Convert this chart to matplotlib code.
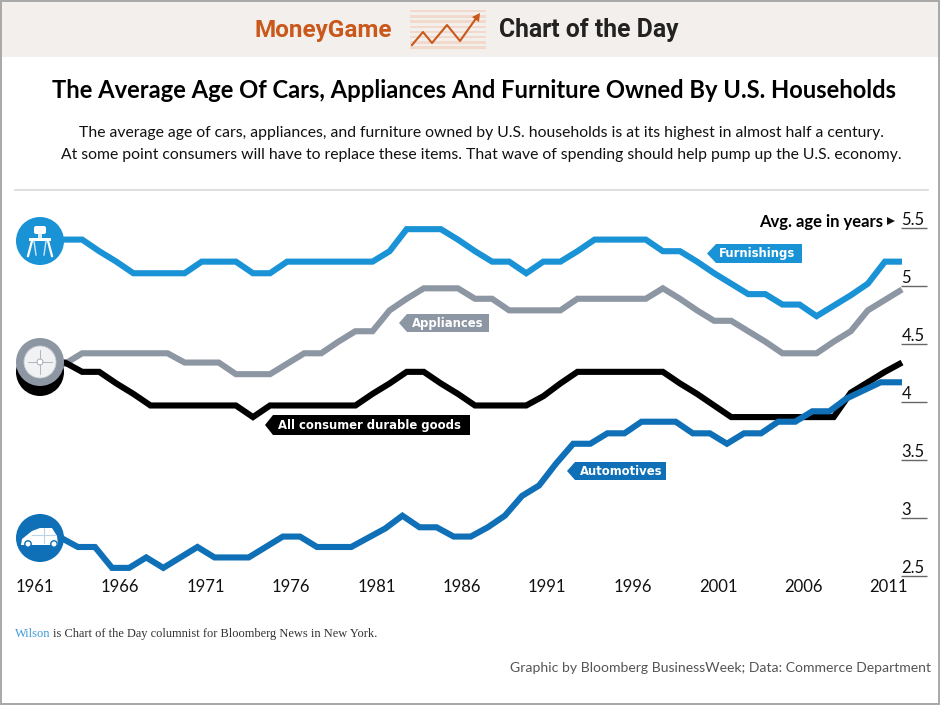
import matplotlib
matplotlib.use("Agg")
import matplotlib.pyplot as plt
from matplotlib.patches import Circle, Polygon, Rectangle, FancyBboxPatch

years = list(range(1961, 2013))
furnishings = [5.40,5.40,5.40,5.40,5.30,5.21,5.11,5.11,5.11,5.11,5.21,5.21,5.21,5.11,5.11,5.21,5.21,5.21,5.21,5.21,5.21,5.30,5.49,5.49,5.49,5.40,5.30,5.21,5.21,5.11,5.21,5.21,5.30,5.40,5.40,5.40,5.40,5.30,5.30,5.21,5.11,5.02,4.93,4.93,4.84,4.84,4.74,4.83,4.92,5.02,5.21,5.21]
appliances = [4.33,4.33,4.33,4.42,4.42,4.42,4.42,4.42,4.42,4.34,4.34,4.34,4.24,4.24,4.24,4.33,4.42,4.42,4.52,4.61,4.61,4.79,4.89,4.98,4.98,4.98,4.89,4.89,4.79,4.79,4.79,4.79,4.89,4.89,4.89,4.89,4.89,4.98,4.89,4.79,4.70,4.70,4.61,4.52,4.42,4.42,4.42,4.52,4.61,4.79,4.88,4.97]
durable = [4.34,4.34,4.34,4.26,4.26,4.16,4.07,3.97,3.97,3.97,3.97,3.97,3.97,3.87,3.97,3.97,3.97,3.97,3.97,3.97,4.07,4.16,4.26,4.26,4.16,4.07,3.97,3.97,3.97,3.97,4.05,4.16,4.26,4.26,4.26,4.26,4.26,4.26,4.16,4.07,3.97,3.87,3.87,3.87,3.87,3.87,3.87,3.87,4.08,4.17,4.26,4.34]
auto_years = [y - 0.25 for y in years[:-1]] + [2012]
automotives = [2.83,2.83,2.83,2.75,2.75,2.57,2.57,2.66,2.57,2.66,2.75,2.66,2.66,2.66,2.75,2.84,2.84,2.75,2.75,2.75,2.83,2.91,3.02,2.92,2.92,2.84,2.84,2.92,3.02,3.19,3.28,3.47,3.64,3.64,3.73,3.73,3.83,3.83,3.83,3.73,3.73,3.64,3.73,3.73,3.83,3.83,3.92,3.92,4.03,4.10,4.17,4.17]
x_ticks = [1961,1966,1971,1976,1981,1986,1991,1996,2001,2006,2011]
y_ticks = [2.5,3,3.5,4,4.5,5,5.5]
y_tick_labels = ["2.5","3","3.5","4","4.5","5","5.5"]

C_FURN = "#1a93d6"; C_APPL = "#8d96a3"; C_AUTO = "#0f70b7"; C_BLK = "#000000"
W, H = 940, 705
SANS = "Lato"

fig = plt.figure(figsize=(9.4, 7.05), dpi=100, facecolor="white")
ax = fig.add_axes([16/W, 1-576/H, (927-16)/W, (576-228)/H])
ax.set_xlim(2012-(902-16)/17.08, 2012+25/17.08)
ax.set_ylim(2.5, 5.5)
ax.patch.set_alpha(0)
for s in ax.spines.values():
    s.set_visible(False)
lw = 4.4
for xs, ys, c, z in [(years, furnishings, C_FURN, 3), (years, appliances, C_APPL, 3),
                     (years, durable, C_BLK, 3), (auto_years, automotives, C_AUTO, 4)]:
    ax.plot(xs, ys, color=c, lw=lw, zorder=z, clip_on=False, solid_joinstyle="miter", solid_capstyle="butt")
ax.set_xticks([y + 0.23 for y in x_ticks])
ax.set_xticklabels([str(y) for y in x_ticks], fontsize=12, family=SANS, color="#111111")
ax.tick_params(axis="x", length=0, pad=2)
ax.yaxis.tick_right()
ax.set_yticks(y_ticks)
ax.set_yticklabels(y_tick_labels, fontsize=12, family=SANS, color="#111111", va="bottom", ha="left")
ax.tick_params(axis="y", direction="in", length=18.7, width=1, color="#666666", pad=-18.5)

ov = fig.add_axes([0, 0, 1, 1], zorder=5)
ov.set_xlim(0, W); ov.set_ylim(H, 0); ov.axis("off"); ov.patch.set_alpha(0)

# header band and frame
ov.add_patch(Rectangle((0, 0), W, 57, fc="#f3efec", ec="none", zorder=0))
ov.add_patch(Rectangle((1, 1), W-2, H-2, fc="none", ec="#a8a8a8", lw=1.4, zorder=20))
ov.text(323, 30, "MoneyGame", color="#c9581a", fontsize=17.5, fontweight="bold", family="Roboto", ha="center", va="center")
ov.text(588.5, 30, "Chart of the Day", color="#222222", fontsize=17.8, fontweight="bold", family="Roboto", ha="center", va="center")
for i in range(8):
    ov.add_patch(Rectangle((410, 10+i*5.2), 76, 2.4, fc="#f1d9cc", ec="none", zorder=1))
ov.plot([412,423,432,447,460,477], [45,32,43,25,41,17], color="#c9581a", lw=1.5, zorder=2)
ov.add_patch(Polygon([[480,13],[472,17],[479,22]], fc="#c9581a", ec="none", zorder=2))

# title block
ov.text(474.5, 91, "The Average Age Of Cars, Appliances And Furniture Owned By U.S. Households",
        fontsize=17.1, fontweight="bold", family=SANS, ha="center", va="center", color="#000000")
ov.text(481.5, 132.5, "The average age of cars, appliances, and furniture owned by U.S. households is at its highest in almost half a century.",
        fontsize=11.35, family=SANS, ha="center", va="center", color="#111111")
ov.text(481.5, 154.5, "At some point consumers will have to replace these items. That wave of spending should help pump up the U.S. economy.",
        fontsize=11.35, family=SANS, ha="center", va="center", color="#111111")
ov.plot([15, 928], [189.5, 189.5], color="#d9d9d9", lw=1.2)

# axis caption
ov.text(883, 221.5, "Avg. age in years", fontsize=12, fontweight="bold", family=SANS, ha="right", va="center", color="#000000")
ov.add_patch(Polygon([[887,217],[887,225],[895,221]], fc="#111111", ec="none"))

# callouts
def callout(tip, body, right, top, bot, color, label, tx):
    mid = (top+bot)/2
    ov.add_patch(Polygon([[tip,mid],[body,top],[right,top],[right,bot],[body,bot]], fc=color, ec="none", zorder=3))
    ov.text(tx, mid + 0.5, label, color="white", fontsize=8.4, fontweight="bold", family="DejaVu Sans", ha="left", va="center", zorder=4)
callout(707, 716, 802, 244, 263, C_FURN, "Furnishings", 719)
callout(399, 407, 489, 314, 332, C_APPL, "Appliances", 412)
callout(265, 273, 470, 415, 435, C_BLK, "All consumer durable goods", 278)
callout(567, 575, 666, 462, 480, C_AUTO, "Automotives", 580)

# chair icon
ov.add_patch(Circle((40, 241), 24, fc=C_FURN, ec="none", zorder=6))
ov.add_patch(FancyBboxPatch((34, 226), 12, 8, boxstyle="round,pad=0,rounding_size=2", fc="white", ec="none", zorder=7))
ov.add_patch(Rectangle((29, 238), 22, 3, fc="white", ec="none", zorder=7))
ov.plot([39,39],[233,239], color="white", lw=1.2, zorder=7)
ov.plot([41,41],[233,239], color="white", lw=1.2, zorder=7)
ov.plot([32,28],[241,256], color="white", lw=1.6, zorder=7)
ov.plot([48,52],[241,256], color="white", lw=1.6, zorder=7)
ov.plot([34,36],[241,255], color="#cfe8f7", lw=1.0, zorder=7)
ov.plot([46,44],[241,255], color="#cfe8f7", lw=1.0, zorder=7)

# tyre icon
ov.add_patch(Circle((40, 372), 24, fc="black", ec="none", zorder=5))
ov.add_patch(Circle((40, 362), 24, fc=C_APPL, ec="none", zorder=6))
ov.add_patch(Circle((40, 362), 16, fc="#f1f2f3", ec="#c8ccd0", lw=0.6, zorder=7))
ov.add_patch(Circle((40, 362), 3, fc="white", ec="#9aa0a8", lw=0.6, zorder=8))
ov.plot([28,52],[362,362], color="#a8adb5", lw=0.6, zorder=7)
ov.plot([40,40],[350,374], color="#a8adb5", lw=0.6, zorder=7)

# car icon
ov.add_patch(Circle((40, 538), 24, fc=C_AUTO, ec="none", zorder=6))
ov.add_patch(Polygon([[21,545],[22,539],[32,531],[40,528],[52,528],[57,536],[58,545]], fc="white", ec="none", zorder=7))
ov.plot([44,44],[528,543], color="#bcd3e8", lw=0.8, zorder=8)
ov.plot([32,56],[535,535], color="#bcd3e8", lw=0.8, zorder=8)
ov.add_patch(Circle((28, 544), 3.2, fc="white", ec=C_AUTO, lw=1, zorder=8))
ov.add_patch(Circle((54, 544), 3.2, fc="white", ec=C_AUTO, lw=1, zorder=8))

# footers
ov.text(15, 634, "Wilson", color="#3c9ad6", fontsize=8.9, family="Liberation Serif", ha="left", va="center")
ov.text(53, 634, "is Chart of the Day columnist for Bloomberg News in New York.", color="#333333",
        fontsize=8.9, family="Liberation Serif", ha="left", va="center")
ov.text(931, 668, "Graphic by Bloomberg BusinessWeek; Data: Commerce Department", color="#555555",
        fontsize=10.1, family=SANS, ha="right", va="center")

fig.savefig("out.png", dpi=100)
